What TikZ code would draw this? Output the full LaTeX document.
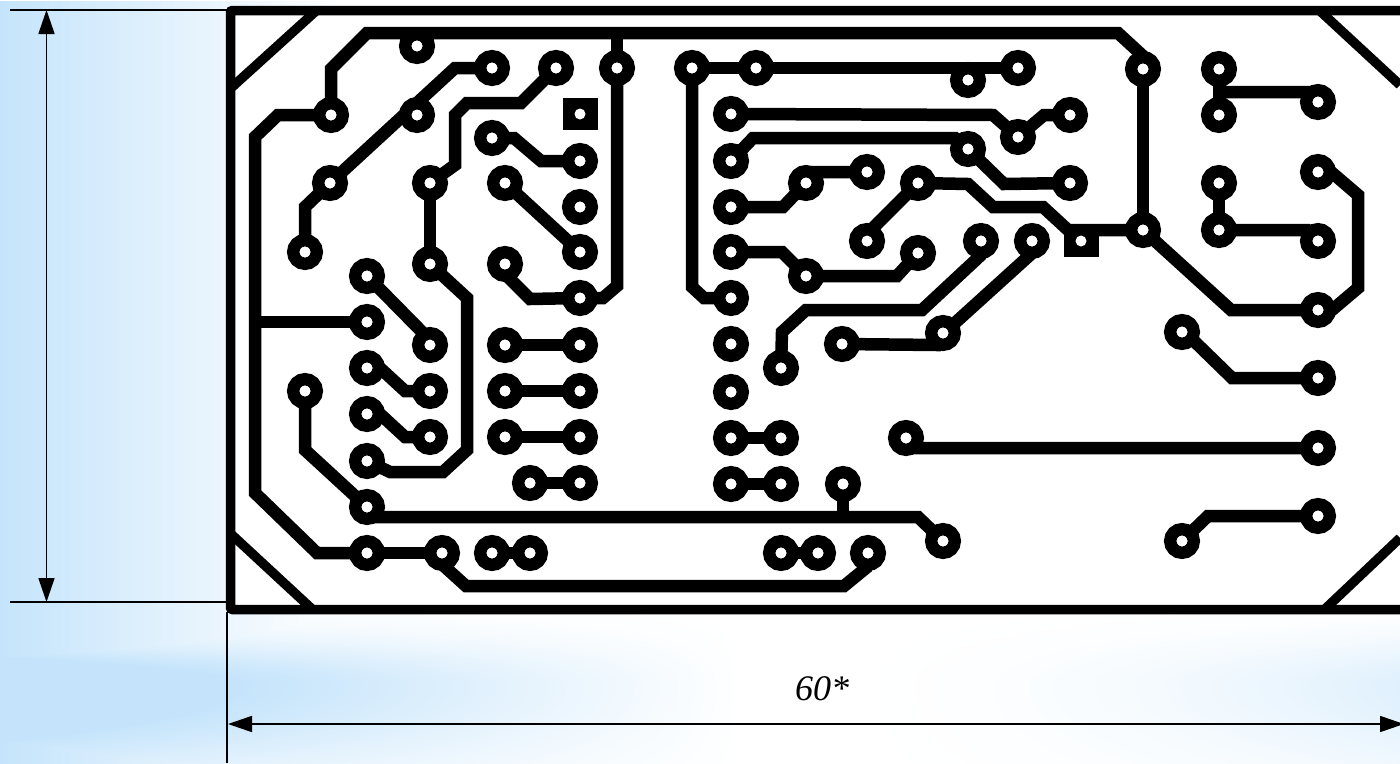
\documentclass[tikz,border=0pt]{standalone}
\usepackage{fontspec}
\setmainfont{Liberation Serif}
\usetikzlibrary{arrows.meta}
\pgfdeclarefunctionalshading{bgsh}{\pgfpoint{0pt}{0pt}}{\pgfpoint{1400pt}{763pt}}{}{
  78 sub dup 0 gt {45 div} {90 div} ifelse dup mul neg 2.71828 exch exp
  exch
  dup 340 div 1 exch sub dup 0 lt {pop 0} if
  exch
  dup 740 exch sub 500 div dup 0 lt {pop 0} if
  exch 800 sub 600 div dup 0 lt {pop 0} if dup mul 0.55 mul
  add
  3 -1 roll
  mul
  2 copy lt {exch} if pop
  dup 1 gt {pop 1} if
  dup 0.227 mul 1 exch sub exch
  dup 0.106 mul 1 exch sub exch
  0.016 mul 1 exch sub
}
\tikzset{
  pad/.style={circle,draw=black,fill=white,line width=12.5pt,minimum size=23.5pt,inner sep=0pt,outer sep=0pt},
  sqpad/.style={rectangle,fill=black,minimum width=35pt,minimum height=32pt,inner sep=0pt,outer sep=0pt},
  track/.style={draw=black,line width=12.5pt,line join=miter},
  edge line/.style={draw=black,line width=9.5pt},
  dim/.style={draw=black,line width=1.7pt},
  dimarrow/.style={dim,{Triangle[length=24pt,width=16pt]}-{Triangle[length=24pt,width=16pt]}},
  ext/.style={draw=black,line width=1.7pt}
}
\def\padlist{a1/417/46,a2/492/68,a3/556/68,a4/617/68,a5/331/115,a6/417/115,a7/492/138,a8/580/161,a9/330/183,a10/430/183,a11/505/183,a12/580/207,a13/305/252,a14/580/252,a15/430/264,a16/505/264,a17/367/276,a18/580/298,
 b1/367/322,b2/430/345,b3/505/345,b4/580/345,b5/367/368,b6/430/391,b7/505/391,b8/580/391,b9/305/391,b10/367/414,b11/430/437,b12/505/437,b13/580/437,b14/367/461,b15/530/483,b16/580/483,b17/367/507,b18/367/553,b19/442/553,b20/492/553,b21/530/553,
 c1/692/68,c2/756/68,c3/968/80,c4/1018/68,c5/731/114,c6/1018/137,c7/1070/115,c8/731/161,c9/968/149,c10/867/172,c11/806/183,c12/918/183,c13/1070/183,c14/731/207,c15/867/241,c16/981/241,c17/1032/241,c18/918/253,c19/731/252,c20/806/276,c21/731/298,c22/943/333,c23/731/344,c24/842/344,c25/781/368,c26/731/392,c27/731/438,c28/781/438,c29/731/484,c30/781/484,c31/843/484,c32/906/438,c33/943/541,c34/868/553,c35/818/553,c36/781/553,
 d1/1143/69,d2/1219/69,d3/1219/115,d4/1318/102,d5/1219/183,d6/1318/172,d7/1219/230,d8/1143/230,d9/1318/241,d10/1318/310,d11/1182/332,d12/1318/378,d13/1318/448,d14/1318/516,d15/1182/541}
\begin{document}
\begin{tikzpicture}[x=1pt,y=-1pt]
\useasboundingbox (0,0) rectangle (1400,763);
\clip (0,0) rectangle (1400,763);
\node[inner sep=0pt,outer sep=0pt,anchor=north west] (bg) at (0,0) {\pgfuseshading{bgsh}};
% board
\path[fill=white] (230.5,10.5) rectangle (1400,609.5);
\draw[edge line,rounded corners=2pt] (1400,10.5) -- (230.5,10.5) -- (230.5,609.5) -- (1400,609.5);
\draw[edge line] (316,11) -- (231,88);
\draw[edge line] (231,534) -- (312,609);
\draw[edge line] (1320,11) -- (1400,85);
\draw[edge line] (1325,609) -- (1400,538);
% extension and dimension lines
\coordinate (t1) at (10,10); \coordinate (t2) at (228,10);
\coordinate (b1x) at (10,602); \coordinate (b2x) at (228,602);
\coordinate (v1) at (227,612); \coordinate (v2) at (227,763);
\coordinate (da) at (46.5,10); \coordinate (db) at (46.5,602);
\coordinate (dc) at (228,724); \coordinate (dd) at (1404,724);
\draw[ext] (t1) -- (t2);
\draw[ext] (b1x) -- (b2x);
\draw[ext] (v1) -- (v2);
\draw[dimarrow] (da) -- (db);
\draw[dimarrow] (dc) -- (dd);
\node[inner sep=0pt,anchor=base,font=\fontsize{36pt}{36pt}\selectfont\itshape] (dimlabel) at (822,700.5) {60*};
% pads
\foreach \n/\x/\y in \padlist {\node[pad] (\n) at (\x,\y) {};}
\node[sqpad] (sq1) at (580,114) {};
\node[sqpad] (sq2) at (1081,241) {};
% tracks
\coordinate (j1) at (617,33);
\coordinate (j2) at (255,322);
\coordinate (j3) at (843,517);
\coordinate (j4) at (1219,92);
\draw[track] (a5) -- (331,69) -- (367,33) -- (1118,33) -- (1143,56) -- (d1);
\draw[track] (j1) -- (a4);
\draw[track] (a5) -- (278,115) -- (255,137) -- (255,493) -- (317,553) -- (b18);
\draw[track] (b18) -- (b19);
\draw[track] (b1) -- (j2);
\draw[track] (a2) -- (455,68) -- (a9);
\draw[track] (a9) -- (305,207) -- (a13);
\draw[track] (a3) -- (521,103) -- (467,103) -- (455,115) -- (455,165) -- (a10);
\draw[track] (a10) -- (a15);
\draw[track] (a15) -- (467,298) -- (467,450) -- (443,472) -- (390,472) -- (b14);
\draw[track] (a7) -- (514,138) -- (541,161) -- (a8);
\draw[track] (a11) -- (a14);
\draw[track] (a16) -- (508,277) -- (530,299) -- (a18);
\draw[track] (a18) -- (603,298) -- (617,286) -- (a4);
\draw[track] (a17) -- (428,338) -- (b2);
\draw[track] (b5) -- (380,368) -- (405,391) -- (b6);
\draw[track] (b10) -- (380,414) -- (405,437) -- (b11);
\draw[track] (b3) -- (b4);
\draw[track] (b7) -- (b8);
\draw[track] (b12) -- (b13);
\draw[track] (b15) -- (b16);
\draw[track] (b20) -- (b21);
\draw[track] (b9) -- (305,450) -- (b17);
\draw[track] (b17) -- (377,517) -- (918,517) -- (c33);
\draw[track] (c31) -- (j3);
\draw[track] (b19) -- (445,567) -- (466,586) -- (844,586) -- (866,568) -- (c34);
\draw[track] (c1) -- (c2);
\draw[track] (c2) -- (c4);
\draw[track] (c1) -- (692,287) -- (704,298) -- (c21);
\draw[track] (c5) -- (993,115) -- (c6);
\draw[track] (c6) -- (1044,115) -- (c7);
\draw[track] (c8) -- (753,138) -- (955,138) -- (c9);
\draw[track] (c9) -- (1004,184) -- (c13);
\draw[track] (c14) -- (783,207) -- (c11);
\draw[track] (c11) -- (814,172) -- (c10);
\draw[track] (c12) -- (870,231) -- (c15);
\draw[track] (c12) -- (968,184) -- (993,207) -- (1043,207) -- (1068,230) -- (d8);
\draw[track] (c19) -- (782,252) -- (c20);
\draw[track] (c20) -- (897,276) -- (c18);
\draw[track] (c16) -- (980,256) -- (922,310) -- (806,310) -- (782,332) -- (c25);
\draw[track] (c17) -- (1030,255) -- (956,322) -- (c22);
\draw[track] (c24) -- (937,345) -- (c22);
\draw[track] (c27) -- (c28);
\draw[track] (c29) -- (c30);
\draw[track] (c36) -- (c35);
\draw[track] (d1) -- (d8);
\draw[track] (d8) -- (1231,310) -- (d10);
\draw[track] (d2) -- (d3);
\draw[track] (j4) -- (1307,92) -- (d4);
\draw[track] (d5) -- (d7);
\draw[track] (d7) -- (1307,230) -- (d9);
\draw[track] (d6) -- (1330,171) -- (1358,195) -- (1358,288) -- (1332,310) -- (d10);
\draw[track] (d11) -- (1195,342) -- (1232,378) -- (d12);
\draw[track] (c32) -- (916,448) -- (d13);
\draw[track] (d15) -- (1208,516) -- (d14);
% pad holes on top of the tracks
\foreach \n/\x/\y in \padlist {\fill[white] (\n.center) circle (5.5pt);}
\fill[white] (sq1.center) circle (5.5pt);
\fill[white] (sq2.center) circle (5.5pt);
\end{tikzpicture}
\end{document}
